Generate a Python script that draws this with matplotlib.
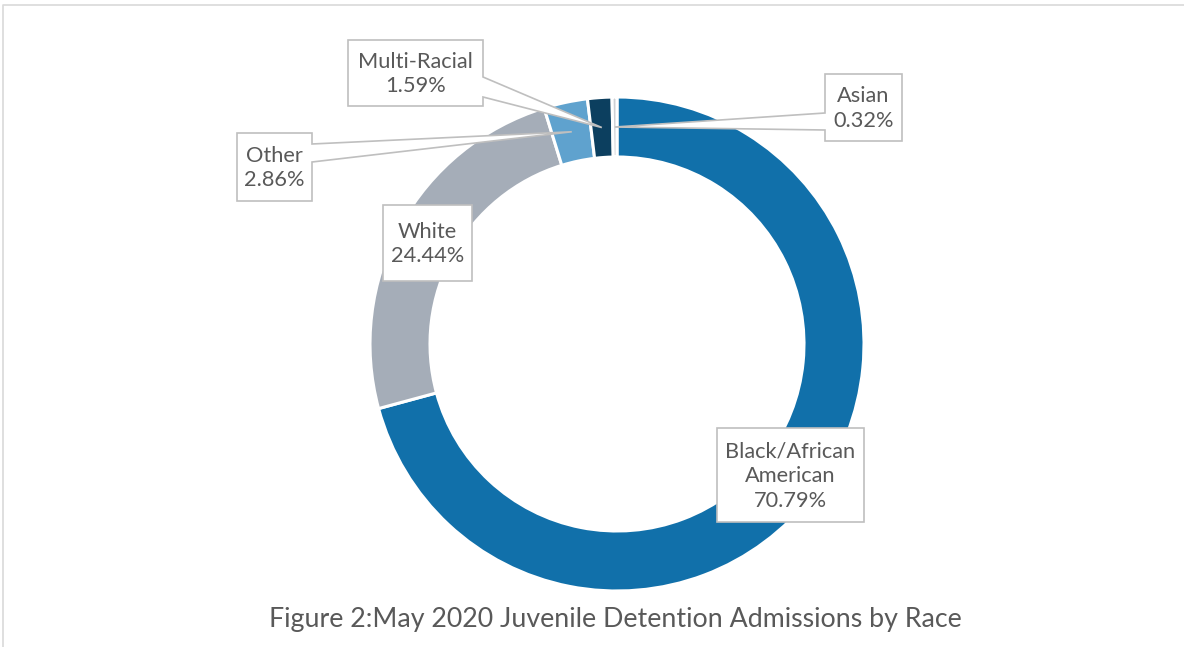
import numpy as np
import matplotlib
matplotlib.use("Agg")
import matplotlib.pyplot as plt
from matplotlib.patches import Polygon
from matplotlib.lines import Line2D

# ---- data ----
categories = ["Black/African American", "White", "Other", "Multi-Racial", "Asian"]
label_text = ["Black/African\nAmerican", "White", "Other", "Multi-Racial", "Asian"]
values = [70.79, 24.44, 2.86, 1.59, 0.32]
colors = ["#1170AA", "#A5ADB8", "#5FA2CE", "#0C3F5F", "#CDD0D4"]
title = "Figure 2:May 2020 Juvenile Detention Admissions by Race"

W, H = 1184, 647
TXT = "#595959"
EDGE = "#BFBFBF"
plt.rcParams['font.family'] = ['Lato', 'DejaVu Sans']

fig = plt.figure(figsize=(W / 100, H / 100), dpi=100)
ax = fig.add_axes([0, 0, 1, 1])

def P(x, y):
    return (x, H - y)

cx, cy = 617, 344
R, ring = 247, 60
ax.pie(values, colors=colors, startangle=90, counterclock=False,
       radius=R, center=P(cx, cy),
       wedgeprops=dict(width=ring, edgecolor="white", linewidth=2.2))

# label boxes (pixel layout): left, top, right, bottom, wedge side, wedge y-range
boxes = {
    "Black/African American": (717, 428, 864, 522, None, None),
    "White": (383, 205, 472, 281, None, None),
    "Other": (237, 133, 312, 201, "right", (144, 162)),
    "Multi-Racial": (348, 40, 483, 106, "right", (77, 97)),
    "Asian": (825, 74, 902, 141, "left", (113, 130)),
}

total = sum(values)
cum = 0.0
for cat, txt, v in zip(categories, label_text, values):
    mid = (cum + v / 2) / total
    cum += v
    ang = np.deg2rad(90 - 360 * mid)
    rm = R - ring / 2
    tip = (cx + rm * np.cos(ang), cy - rm * np.sin(ang))
    l, t, r, b, side, wy = boxes[cat]
    if side == "right":
        pts = [(l, t), (r, t), (r, wy[0]), tip, (r, wy[1]), (r, b), (l, b)]
    elif side == "left":
        pts = [(l, t), (r, t), (r, b), (l, b), (l, wy[1]), tip, (l, wy[0])]
    else:
        pts = [(l, t), (r, t), (r, b), (l, b)]
    ax.add_patch(Polygon([P(*p) for p in pts], closed=True, facecolor="white",
                         edgecolor=EDGE, linewidth=1.2, zorder=5))
    ax.text(*P((l + r) / 2, (t + b) / 2 + 1), f"{txt}\n{v:.2f}%", ha="center",
            va="center", fontsize=15.7, color=TXT, zorder=6, linespacing=1.3)

ax.text(*P(615, 619), title, ha="center", va="center", fontsize=19.3, color=TXT)

ax.set_xlim(0, W)
ax.set_ylim(0, H)
ax.set_aspect("equal")
ax.axis("off")

fig.add_artist(Line2D([3 / W, 3 / W, 1], [0, 1 - 5 / H, 1 - 5 / H],
                      transform=fig.transFigure, color="#D9D9D9", linewidth=1.2))

fig.savefig("out.png", dpi=100)
